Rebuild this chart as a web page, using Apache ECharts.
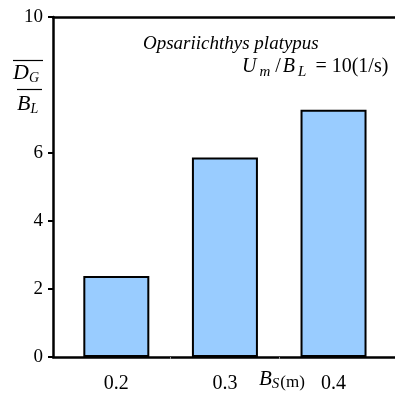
<!DOCTYPE html>
<html>
<head>
<meta charset="utf-8">
<script src="https://cdn.jsdelivr.net/npm/echarts@6/dist/echarts.min.js"></script>
<style>
  html, body { margin: 0; padding: 0; background: #fff; }
  #chart { width: 395px; height: 394px; }
</style>
</head>
<body>
<div id="chart"></div>
<script>
// data
const spacings = [0.2, 0.3, 0.4];          // B_S (m)
const ratios = [2.38, 5.87, 7.27];         // D_G / B_L
const yTicks = [0, 2, 4, 6, 10];
const xMinorTicks = [0.25, 0.35];

const serif = '"Liberation Serif", "Times New Roman", serif';
const axisLineStyle = { color: "#000", width: 2.5 };

const it = (size, pad) => ({ fontFamily: serif, fontStyle: "italic", fontSize: size, fill: "#000", padding: pad || 0 });
const rm = (size, pad) => ({ fontFamily: serif, fontSize: size, fill: "#000", padding: pad || 0 });

const chart = echarts.init(document.getElementById("chart"));

chart.setOption({
  animation: false,
  grid: { left: 53, right: 0, top: 17, bottom: 37 },
  xAxis: [
    {
      type: "value",
      min: 0.1417,
      max: 0.4566,
      axisLine: { lineStyle: axisLineStyle },
      splitLine: { show: false },
      axisTick: {
        show: true,
        customValues: xMinorTicks,
        length: 2,
        lineStyle: { color: "#999", width: 1 },
      },
      axisLabel: {
        customValues: spacings,
        formatter: (v) => v.toFixed(1),
        color: "#000",
        fontFamily: serif,
        fontSize: 20,
        margin: 17,
      },
    },
    {
      type: "value",
      position: "top",
      min: 0.1417,
      max: 0.4566,
      axisLine: { show: true, lineStyle: axisLineStyle },
      axisTick: { show: false },
      axisLabel: { show: false },
      splitLine: { show: false },
    },
  ],
  yAxis: {
    type: "value",
    min: 0,
    max: 10,
    axisLine: { show: true, lineStyle: axisLineStyle },
    splitLine: { show: false },
    axisTick: {
      show: true,
      customValues: yTicks,
      length: 5,
      lineStyle: { color: "#000", width: 2 },
    },
    axisLabel: {
      customValues: yTicks,
      color: "#000",
      fontFamily: serif,
      fontSize: 19,
      margin: 10,
    },
  },
  series: [
    {
      type: "bar",
      xAxisIndex: 0,
      barWidth: 66,
      data: spacings.map((s, i) => [s, ratios[i]]),
      itemStyle: { color: "#99ccff", borderColor: "#000", borderWidth: 2 },
    },
  ],
  graphic: [
    // y-axis label: overline D_G over overline B_L
    { type: "line", shape: { x1: 13, y1: 60.5, x2: 43, y2: 60.5 }, style: { stroke: "#000", lineWidth: 1.2 } },
    { type: "line", shape: { x1: 17, y1: 89.5, x2: 42, y2: 89.5 }, style: { stroke: "#000", lineWidth: 1.2 } },
    {
      type: "text", left: 13, top: 62,
      style: { text: "{m|D}{s|G}", rich: { m: it(22), s: it(14, [10, 0, 0, 0]) } },
    },
    {
      type: "text", left: 17, top: 93,
      style: { text: "{m|B}{s|L}", rich: { m: it(22), s: it(14, [10, 0, 0, 0]) } },
    },
    // species
    {
      type: "text", left: 143, top: 34,
      style: { text: "Opsariichthys platypus", fontFamily: serif, fontStyle: "italic", fontSize: 19, fill: "#000" },
    },
    // flow condition
    {
      type: "text", left: 242, top: 57,
      style: {
        text: "{i|U}{s|m}{n|/}{i|B}{s|L}{e|=}{n|10(1/s)}",
        rich: {
          i: it(20),
          s: it(15, [10, 3, 0, 3]),
          n: rm(20, [0, 2, 0, 2]),
          e: rm(20, [0, 3, 0, 6]),
        },
      },
    },
    // x-axis name between 0.3 and 0.4
    {
      type: "text", left: 259, top: 369,
      style: {
        text: "{i|B}{s|S}{n|(m)}",
        rich: { i: it(21), s: it(15, [9, 0, 0, 0]), n: rm(17, [6, 0, 0, 1]) },
      },
    },
  ],
});
</script>
</body>
</html>
